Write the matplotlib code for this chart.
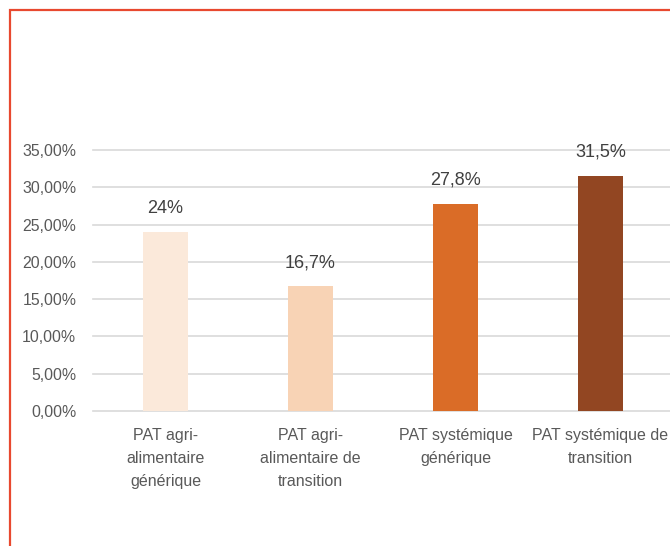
import matplotlib.pyplot as plt
from matplotlib.patches import Rectangle

categories = ["PAT agri-\nalimentaire\ngénérique",
              "PAT agri-\nalimentaire de\ntransition",
              "PAT systémique\ngénérique",
              "PAT systémique de\ntransition"]
values = [24.0, 16.7, 27.8, 31.5]
value_labels = ["24%", "16,7%", "27,8%", "31,5%"]
yticks = [0, 5, 10, 15, 20, 25, 30, 35]
ytick_labels = ["0,00%", "5,00%", "10,00%", "15,00%", "20,00%", "25,00%", "30,00%", "35,00%"]
colors = ["#FBE9DA", "#F8D3B5", "#DA6C27", "#924622"]

sans = ["Liberation Sans", "DejaVu Sans"]

fig = plt.figure(figsize=(6.7, 5.46), dpi=100)
ax = fig.add_axes([93 / 670, 135 / 546, 580 / 670, 261 / 546])

x = range(len(values))
ax.bar(x, values, width=0.317, color=colors, zorder=3)

for xi, v, lab in zip(x, values, value_labels):
    ax.annotate(lab, (xi, v), xytext=(0, 11), textcoords="offset points",
                ha="center", va="bottom", fontsize=13, color="#404040",
                family=sans)

ax.set_xlim(-0.5, 3.5)
ax.set_ylim(0, 35)
ax.set_yticks(yticks)
ax.set_yticklabels(ytick_labels, family=sans, fontsize=11.4, color="#595959")
ax.set_xticks(list(x))
ax.set_xticklabels(categories, family=sans, fontsize=11.5, color="#595959",
                   linespacing=1.7, va="top")
ax.tick_params(length=0)
ax.tick_params(axis="y", pad=12)
ax.tick_params(axis="x", pad=12)

ax.grid(axis="y", color="#D9D9D9", linewidth=1.2, zorder=0)
for gl in ax.get_ygridlines():
    gl.set_clip_on(False)
for s in ax.spines.values():
    s.set_visible(False)

# outer frame, only top and left edges fall inside the figure
fig.add_artist(Rectangle((10 / 670, -0.1), 1.2, (536 / 546) + 0.1,
                         transform=fig.transFigure, fill=False,
                         edgecolor="#E8492F", linewidth=1.6))

fig.savefig("out.png", dpi=100)
